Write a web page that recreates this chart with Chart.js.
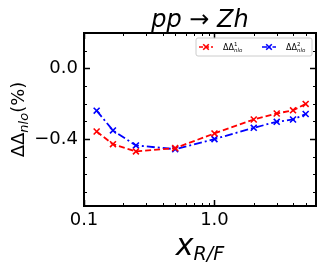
<!DOCTYPE html>
<html>
<head>
<meta charset="utf-8">
<script src="https://cdn.jsdelivr.net/npm/chart.js@4.4.1/dist/chart.umd.min.js"></script>
<style>
  html, body { margin: 0; padding: 0; background: #fff; }
  #wrap { width: 324px; height: 272px; }
</style>
</head>
<body>
<div id="wrap"><canvas id="c" width="324" height="272"></canvas></div>
<script>
// x_{R/F} scale factors and the two NLO differences (%)
const xRF = [0.125, 0.1667, 0.25, 0.5, 1, 2, 3, 4, 5];
const dd1 = [-0.358, -0.430, -0.471, -0.452, -0.369, -0.290, -0.256, -0.238, -0.202];
const dd2 = [-0.240, -0.352, -0.437, -0.458, -0.401, -0.337, -0.303, -0.290, -0.259];

const xMajor = [0.1, 1];
const xTickLabels = ['0.1', '1.0'];
const xMinor = [0.2, 0.3, 0.4, 0.5, 0.6, 0.7, 0.8, 0.9, 2, 3, 4, 5, 6];
const yMajor = [0, -0.4];
const yTickLabels = ['0.0', '\u22120.4'];
const yMinor = [0.1, -0.1, -0.2, -0.3, -0.5, -0.6, -0.7];

const FONT = "'DejaVu Sans', sans-serif";

// matplotlib-like frame, inward ticks, titles and legend
const decor = {
  id: 'decor',
  afterDraw(chart) {
    const { ctx, chartArea: a, scales } = chart;
    const xs = scales.x, ys = scales.y;
    ctx.save();
    ctx.strokeStyle = '#000';

    const tick = (len, w, xv, yv) => {
      ctx.lineWidth = w;
      ctx.beginPath();
      xv.forEach((v) => {
        const px = Math.round(xs.getPixelForValue(v)) + 0.5;
        ctx.moveTo(px, a.bottom); ctx.lineTo(px, a.bottom - len);
        ctx.moveTo(px, a.top); ctx.lineTo(px, a.top + len);
      });
      yv.forEach((v) => {
        const py = Math.round(ys.getPixelForValue(v)) + 0.5;
        ctx.moveTo(a.left, py); ctx.lineTo(a.left + len, py);
        ctx.moveTo(a.right, py); ctx.lineTo(a.right - len, py);
      });
      ctx.stroke();
    };
    tick(6, 1.5, xMajor, yMajor);
    tick(3, 1, xMinor, yMinor);

    ctx.lineWidth = 2;
    ctx.strokeRect(a.left, a.top, a.right - a.left, a.bottom - a.top);

    // title
    ctx.fillStyle = '#000';
    ctx.textBaseline = 'alphabetic';
    ctx.textAlign = 'center';
    ctx.font = `italic 24px ${FONT}`;
    ctx.fillText('pp \u2192 Zh', (a.left + a.right) / 2, 27);

    // x axis title
    ctx.textAlign = 'left';
    ctx.font = `italic 30px ${FONT}`;
    const wx = ctx.measureText('x').width;
    ctx.font = `italic 19px ${FONT}`;
    const ws = ctx.measureText('R/F').width;
    const x0 = (a.left + a.right) / 2 - (wx + ws) / 2;
    ctx.font = `italic 30px ${FONT}`;
    ctx.fillText('x', x0, 255);
    ctx.font = `italic 19px ${FONT}`;
    ctx.fillText('R/F', x0 + wx, 260);

    // y axis title
    ctx.save();
    ctx.translate(24, (a.top + a.bottom) / 2);
    ctx.rotate(-Math.PI / 2);
    ctx.font = `18px ${FONT}`;
    const w1 = ctx.measureText('\u0394\u0394').width;
    const w3 = ctx.measureText('(%)').width;
    ctx.font = `italic 13px ${FONT}`;
    const w2 = ctx.measureText('nlo').width;
    let yx = -(w1 + w2 + w3) / 2;
    ctx.font = `18px ${FONT}`;
    ctx.fillText('\u0394\u0394', yx, 0);
    ctx.font = `italic 13px ${FONT}`;
    ctx.fillText('nlo', yx + w1, 4);
    ctx.font = `18px ${FONT}`;
    ctx.fillText('(%)', yx + w1 + w2, 0);
    ctx.restore();

    // legend
    const lx = 196, ly = 38, lw = 116, lh = 18;
    ctx.beginPath();
    ctx.roundRect(lx, ly, lw, lh, 2);
    ctx.fillStyle = 'rgba(255,255,255,0.85)';
    ctx.fill();
    ctx.strokeStyle = '#cccccc';
    ctx.lineWidth = 1;
    ctx.stroke();

    const entry = (sx, color, dash, sup) => {
      const cy = ly + 9;
      ctx.strokeStyle = color;
      ctx.lineWidth = 1.6;
      ctx.setLineDash(dash);
      ctx.beginPath();
      ctx.moveTo(sx, cy); ctx.lineTo(sx + 14, cy);
      ctx.stroke();
      ctx.setLineDash([]);
      const mx = sx + 7, r = 2.8;
      ctx.beginPath();
      ctx.moveTo(mx - r, cy - r); ctx.lineTo(mx + r, cy + r);
      ctx.moveTo(mx - r, cy + r); ctx.lineTo(mx + r, cy - r);
      ctx.stroke();
      ctx.fillStyle = '#000';
      ctx.font = `8px ${FONT}`;
      const tx = sx + 24;
      ctx.fillText('\u0394\u0394', tx, cy + 3);
      const dw = ctx.measureText('\u0394\u0394').width;
      ctx.font = `5.5px ${FONT}`;
      ctx.fillText(sup, tx + dw, cy - 1);
      ctx.font = `italic 5.5px ${FONT}`;
      ctx.fillText('nlo', tx + dw, cy + 5);
    };
    entry(199, '#ff0000', [4, 2], '1');
    entry(262, '#0000ff', [5, 2, 1.5, 2], '2');

    ctx.restore();
  }
};

const toPts = (ys) => xRF.map((x, i) => ({ x, y: ys[i] }));

new Chart(document.getElementById('c'), {
  type: 'line',
  data: {
    datasets: [
      {
        label: 'dd1',
        data: toPts(dd1),
        borderColor: '#ff0000',
        borderWidth: 1.8,
        borderDash: [6, 3],
        pointStyle: 'crossRot',
        pointRadius: 4.2,
        pointBorderWidth: 1.6,
        pointBorderColor: '#ff0000',
        fill: false,
        tension: 0,
      },
      {
        label: 'dd2',
        data: toPts(dd2),
        borderColor: '#0000ff',
        borderWidth: 1.8,
        borderDash: [8, 3, 2, 3],
        pointStyle: 'crossRot',
        pointRadius: 4.2,
        pointBorderWidth: 1.6,
        pointBorderColor: '#0000ff',
        fill: false,
        tension: 0,
      },
    ],
  },
  options: {
    responsive: false,
    animation: false,
    layout: { padding: { left: 0, right: 8, top: 33, bottom: 0 } },
    plugins: { legend: { display: false }, tooltip: { enabled: false }, title: { display: false } },
    scales: {
      x: {
        type: 'logarithmic',
        min: 0.1,
        max: 6,
        grid: { display: false, drawTicks: false },
        border: { display: false },
        afterBuildTicks: (s) => { s.ticks = xMajor.map((v) => ({ value: v })); },
        afterFit: (s) => { s.height = 66; },
        ticks: {
          autoSkip: false,
          maxRotation: 0,
          padding: 4,
          color: '#000',
          font: { family: FONT, size: 18 },
          callback: (v) => xTickLabels[xMajor.indexOf(v)],
        },
      },
      y: {
        min: -0.78,
        max: 0.2,
        grid: { display: false, drawTicks: false },
        border: { display: false },
        afterBuildTicks: (s) => { s.ticks = yMajor.map((v) => ({ value: v })); },
        afterFit: (s) => { s.width = 84; },
        ticks: {
          padding: 6,
          color: '#000',
          font: { family: FONT, size: 18 },
          callback: (v) => yTickLabels[yMajor.indexOf(v)],
        },
      },
    },
  },
  plugins: [decor],
});
</script>
</body>
</html>
